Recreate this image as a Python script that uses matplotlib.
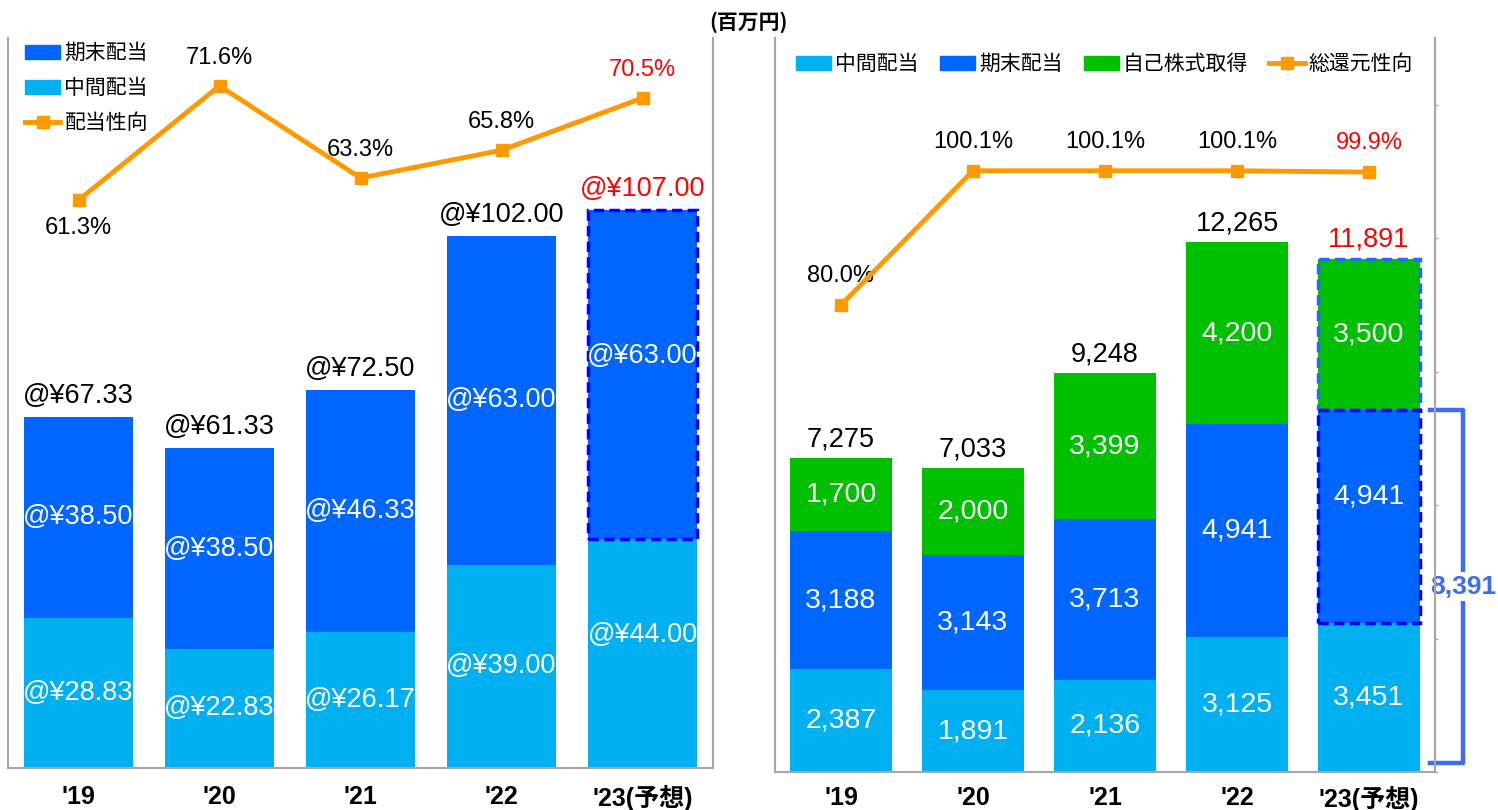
import matplotlib
matplotlib.use("Agg")
import matplotlib.pyplot as plt
from matplotlib.patches import Patch
from matplotlib.lines import Line2D
import matplotlib.transforms as mtransforms

plt.rcParams['font.family'] = ['Liberation Sans', 'Noto Sans CJK JP', 'DejaVu Sans']

# ---------------- data ----------------
years = ["'19", "'20", "'21", "'22", "'23(予想)"]

# left panel: dividend per share (yen)
dps_interim = [28.83, 22.83, 26.17, 39.00, 44.00]
dps_final = [38.50, 38.50, 46.33, 63.00, 63.00]
dps_total_labels = ["@¥67.33", "@¥61.33", "@¥72.50", "@¥102.00", "@¥107.00"]
payout_ratio = [61.3, 71.6, 63.3, 65.8, 70.5]

# right panel: shareholder return (million yen)
ret_interim = [2387, 1891, 2136, 3125, 3451]
ret_final = [3188, 3143, 3713, 4941, 4941]
ret_buyback = [1700, 2000, 3399, 4200, 3500]
ret_totals = [7275, 7033, 9248, 12265, 11891]
total_return_ratio = [80.0, 100.1, 100.1, 100.1, 99.9]
bracket_value = 8391

# ---------------- style ----------------
C_FINAL = '#0066FF'
C_INTERIM = '#00B0F0'
C_BUY = '#00C000'
C_LINE = '#FF9900'
C_RED = '#FF0000'
C_SPINE = '#A6A6A6'
C_BRACKET = '#3D6BF2'
CJK = ['Noto Sans CJK JP', 'Liberation Sans']

fig = plt.figure(figsize=(14.98, 8.10), dpi=100)
W, H = 1498, 810

def px_axes(x0, x1, ytop, ybot):
    return fig.add_axes([x0 / W, 1 - ybot / H, (x1 - x0) / W, (ybot - ytop) / H])

axL = px_axes(8, 713, 38, 768)
axR = px_axes(775, 1435, 38, 772)

x = list(range(len(years)))
n = len(years)

def style_axes(ax, pad):
    ax.spines['top'].set_visible(False)
    for s in ['left', 'right', 'bottom']:
        ax.spines[s].set_color(C_SPINE)
        ax.spines[s].set_linewidth(1.5)
    ax.set_yticks([])
    ax.set_xlim(-0.5, n - 0.5)
    ax.set_xticks(x)
    ax.set_xticklabels(years, fontsize=18, fontweight='bold',
                       family=['Liberation Sans Narrow', 'Liberation Sans', 'Noto Sans CJK JP'])
    ax.tick_params(axis='x', length=0, pad=pad)

# ================= LEFT PANEL =================
style_axes(axL, 12)
axL.set_ylim(0, 140)
bw = 0.77
axL.bar(x, dps_interim, width=bw, color=C_INTERIM, zorder=2)
axL.bar(x, dps_final, width=bw, bottom=dps_interim, color=C_FINAL, zorder=2)
# dashed outline on forecast final segment
axL.bar([x[-1]], [dps_final[-1]], width=bw, bottom=[dps_interim[-1]], fill=False,
        edgecolor='#0000FF', linestyle=(0, (3, 1.5)), linewidth=2.5, zorder=3)

lab_fs = 19.5
for i in x:
    dy = 13 if i == n - 1 else 0
    axL.annotate(f"@¥{dps_interim[i]:.2f}", (i, dps_interim[i] / 2), xytext=(0, dy),
                 textcoords='offset points', ha='center', va='center',
                 color='white', fontsize=lab_fs, zorder=4)
    axL.annotate(f"@¥{dps_final[i]:.2f}", (i, dps_interim[i] + dps_final[i] / 2),
                 xytext=(0, dy), textcoords='offset points', ha='center',
                 va='center', color='white', fontsize=lab_fs, zorder=4)
    top = dps_interim[i] + dps_final[i]
    axL.annotate(dps_total_labels[i], (i, top), xytext=(0, 6), textcoords='offset points',
                 ha='center', va='bottom', fontsize=lab_fs,
                 color=C_RED if i == n - 1 else 'black')

axL2 = axL.twinx()
axL2.set_ylim(10.2, 75.9)
axL2.set_yticks([])
for s in axL2.spines.values():
    s.set_visible(False)
axL2.plot(x, payout_ratio, color=C_LINE, lw=3.5, marker='s', ms=8, zorder=5)
for i in x:
    off = -20 if i == 0 else 20
    axL2.annotate(f"{payout_ratio[i]:.1f}%", (i, payout_ratio[i]), xytext=(0, off),
                  textcoords='offset points', ha='center', va='center', fontsize=17,
                  color=C_RED if i == n - 1 else 'black')

legL = [Patch(color=C_FINAL, label='期末配当'),
        Patch(color=C_INTERIM, label='中間配当'),
        Line2D([0], [0], color=C_LINE, lw=3.5, marker='s', ms=8, label='配当性向')]
axL2.legend(handles=legL, loc='upper left', bbox_to_anchor=(0.018, 1.0), frameon=False,
            prop={'family': CJK, 'size': 15}, handlelength=1.7, handletextpad=0.2,
            labelspacing=0.62, borderaxespad=0.0, borderpad=0.2)

# ================= RIGHT PANEL =================
style_axes(axR, 10)
axR.set_ylim(0, 17000)
bw2 = 0.78
b2 = [a + b for a, b in zip(ret_interim, ret_final)]
axR.bar(x, ret_interim, width=bw2, color=C_INTERIM, zorder=2)
axR.bar(x, ret_final, width=bw2, bottom=ret_interim, color=C_FINAL, zorder=2)
axR.bar(x, ret_buyback, width=bw2, bottom=b2, color=C_BUY, zorder=2)
axR.bar([x[-1]], [ret_buyback[-1]], width=bw2, bottom=[b2[-1]], fill=False,
        edgecolor='#1F6BFF', linestyle=(0, (3, 1.5)), linewidth=2.5, zorder=3)
axR.bar([x[-1]], [ret_final[-1]], width=bw2, bottom=[ret_interim[-1]], fill=False,
        edgecolor='#0000FF', linestyle=(0, (3, 1.5)), linewidth=2.5, zorder=3)

rfs = 20.5
for i in x:
    axR.text(i, ret_interim[i] / 2, f"{ret_interim[i]:,}", ha='center', va='center',
             color='white', fontsize=rfs, zorder=4)
    dy = 14 if i == n - 1 else 0
    axR.annotate(f"{ret_final[i]:,}", (i, ret_interim[i] + ret_final[i] / 2),
                 xytext=(0, dy), textcoords='offset points', ha='center',
                 va='center', color='white', fontsize=rfs, zorder=4)
    axR.text(i, b2[i] + ret_buyback[i] / 2, f"{ret_buyback[i]:,}", ha='center',
             va='center', color='white', fontsize=rfs, zorder=4)
    top = b2[i] + ret_buyback[i]
    axR.annotate(f"{ret_totals[i]:,}", (i, top), xytext=(0, 4), textcoords='offset points',
                 ha='center', va='bottom', fontsize=19.5,
                 color=C_RED if i == n - 1 else 'black')

axR2 = axR.twinx()
axR2.set_ylim(10, 120)
axR2.set_yticks([10, 30, 50, 70, 90, 110])
axR2.set_yticklabels([])
axR2.tick_params(axis='y', length=2, color=C_SPINE, width=1)
for s in ['top', 'left', 'bottom']:
    axR2.spines[s].set_visible(False)
axR2.spines['right'].set_color(C_SPINE)
axR2.spines['right'].set_linewidth(1.5)
axR2.plot(x, total_return_ratio, color=C_LINE, lw=3.5, marker='s', ms=8, zorder=5)
for i in x:
    axR2.annotate(f"{total_return_ratio[i]:.1f}%", (i, total_return_ratio[i]),
                  xytext=(0, 21), textcoords='offset points', ha='center', va='center',
                  fontsize=17, color=C_RED if i == n - 1 else 'black')

legR = [Patch(color=C_INTERIM, label='中間配当'),
        Patch(color=C_FINAL, label='期末配当'),
        Patch(color=C_BUY, label='自己株式取得'),
        Line2D([0], [0], color=C_LINE, lw=3.5, marker='s', ms=8, label='総還元性向')]
axR2.legend(handles=legR, loc='upper left', bbox_to_anchor=(0.025, 0.985), frameon=False,
            ncol=4, prop={'family': CJK, 'size': 15}, handlelength=1.7,
            handletextpad=0.2, columnspacing=1.0, borderaxespad=0.0, borderpad=0.2)

# bracket for forecast dividend total
trans = mtransforms.blended_transform_factory(axR.transAxes, axR.transData)
bx0, bx1 = 0.993, 1.042
ytop = b2[-1]
ybot = 200
axR.plot([bx0, bx1, bx1, bx0], [ytop, ytop, ybot, ybot], transform=trans,
         color=C_BRACKET, lw=3.2, clip_on=False, zorder=6, solid_joinstyle='round')
axR.text(bx1, (ytop + ybot) / 2, f"{bracket_value:,}", transform=trans,
         ha='center', va='center', fontsize=19, fontweight='bold', color=C_BRACKET,
         zorder=7, bbox=dict(facecolor='white', edgecolor='none', pad=1.5), clip_on=False)

fig.text(748 / W, 1 - 22 / H, '(百万円)', ha='center', va='center', fontsize=15,
         fontweight='bold', family=CJK)

fig.savefig('out.png', dpi=100)
